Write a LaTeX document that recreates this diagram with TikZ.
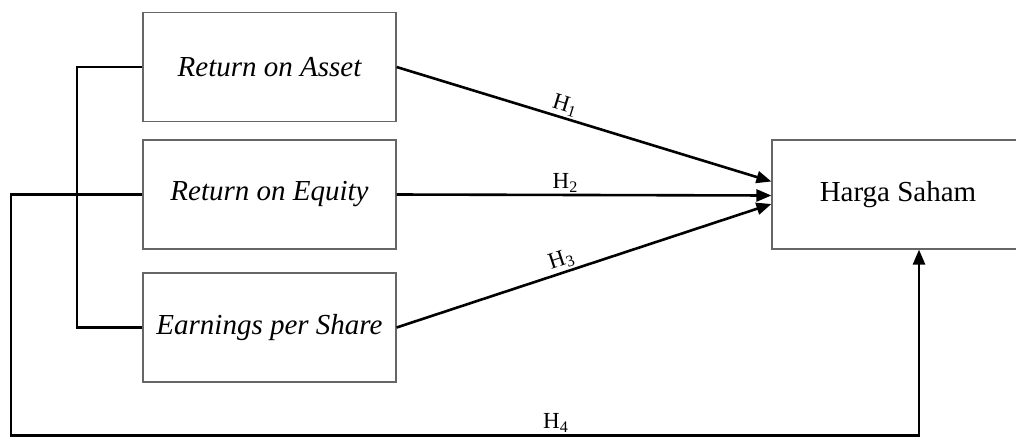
\documentclass[tikz,border=0pt]{standalone}
\usepackage{fontspec}
\setmainfont{Liberation Serif}
\usetikzlibrary{arrows.meta}
\begin{document}
\begin{tikzpicture}[x=1pt,y=-1pt,
  box/.style={draw=black!60, line width=1.2pt, minimum width=253pt, minimum height=109pt, inner sep=0pt, font=\fontsize{29}{32}\selectfont},
  conn/.style={line width=2.6pt, black},
  arr/.style={conn, -{Triangle[length=15pt,width=12pt]}},
  lab/.style={font=\fontsize{23}{25}\selectfont, inner sep=1.5pt}]
\useasboundingbox (0,0) rectangle (1016,437);
\node[box] (b1) at (269.5,67) {\itshape Return on Asset};
\node[box] (b2) at (269.5,194.5) {\itshape Return on Equity};
\node[box] (b3) at (269.5,327.5) {\itshape Earnings per Share};
\node[box, minimum width=252pt] (hs) at (898,194.5) {Harga Saham};
\draw[conn] (b1.west) -- (77,67) |- (b3.west);
\draw[arr] (b1.east) -- node[lab, above, sloped, pos=0.44] {H\textsubscript{1}} ([yshift=13pt]hs.west);
\draw[arr] (b2.east) -- node[lab, above, pos=0.45] {H\textsubscript{2}} ([yshift=-1pt]hs.west);
\draw[arr] (b3.east) -- node[lab, above, sloped, pos=0.45] {H\textsubscript{3}} ([yshift=-9.5pt]hs.west);
\draw[arr] (b2.west) -| (11,435.5) -| node[lab, above, pos=0.3] {H\textsubscript{4}} ([xshift=21pt]hs.south);
\end{tikzpicture}
\end{document}
